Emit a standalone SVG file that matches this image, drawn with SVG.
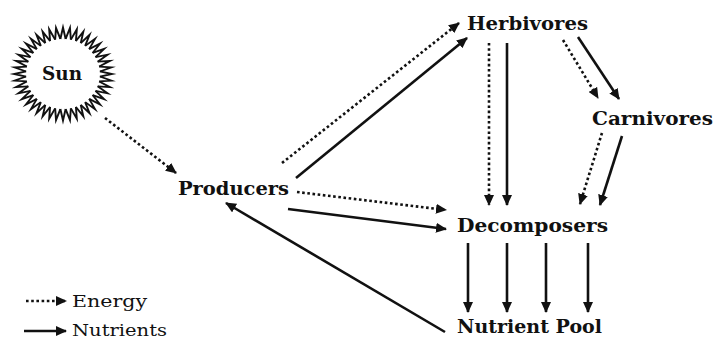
<svg xmlns="http://www.w3.org/2000/svg" width="713" height="340" viewBox="0 0 713 340">
<style>
.lbl{font-family:"DejaVu Serif","Liberation Serif",serif;font-weight:bold;font-size:18px;fill:#111}
.leg{font-family:"DejaVu Serif","Liberation Serif",serif;font-size:16px;fill:#111}
.sol{stroke:#111;stroke-width:2.6;fill:none;marker-end:url(#ah)}
.dot{stroke:#111;stroke-width:2.6;fill:none;stroke-dasharray:2.6 2.6;marker-end:url(#ah)}
.sp{fill:none;stroke:#111;stroke-width:1.9;stroke-linejoin:miter;stroke-miterlimit:20}
</style>
<defs>
<marker id="ah" markerUnits="userSpaceOnUse" markerWidth="12" markerHeight="10" refX="10" refY="5" orient="auto">
<path d="M0,0 L11,5 L0,10 Z" fill="#111"/>
</marker>
<polyline id="spike" class="sp" points="36.906,-2.640 49,0 36.906,2.640"/>
</defs>
<rect width="713" height="340" fill="#fff"/>
<g id="sun">
<g transform="translate(63,74) scale(1,0.95)">
<use href="#spike" transform="rotate(0)"/><use href="#spike" transform="rotate(8.1818)"/><use href="#spike" transform="rotate(16.3636)"/><use href="#spike" transform="rotate(24.5455)"/><use href="#spike" transform="rotate(32.7273)"/><use href="#spike" transform="rotate(40.9091)"/><use href="#spike" transform="rotate(49.0909)"/><use href="#spike" transform="rotate(57.2727)"/><use href="#spike" transform="rotate(65.4545)"/><use href="#spike" transform="rotate(73.6364)"/><use href="#spike" transform="rotate(81.8182)"/>
<use href="#spike" transform="rotate(90)"/><use href="#spike" transform="rotate(98.1818)"/><use href="#spike" transform="rotate(106.3636)"/><use href="#spike" transform="rotate(114.5455)"/><use href="#spike" transform="rotate(122.7273)"/><use href="#spike" transform="rotate(130.9091)"/><use href="#spike" transform="rotate(139.0909)"/><use href="#spike" transform="rotate(147.2727)"/><use href="#spike" transform="rotate(155.4545)"/><use href="#spike" transform="rotate(163.6364)"/><use href="#spike" transform="rotate(171.8182)"/>
<use href="#spike" transform="rotate(180)"/><use href="#spike" transform="rotate(188.1818)"/><use href="#spike" transform="rotate(196.3636)"/><use href="#spike" transform="rotate(204.5455)"/><use href="#spike" transform="rotate(212.7273)"/><use href="#spike" transform="rotate(220.9091)"/><use href="#spike" transform="rotate(229.0909)"/><use href="#spike" transform="rotate(237.2727)"/><use href="#spike" transform="rotate(245.4545)"/><use href="#spike" transform="rotate(253.6364)"/><use href="#spike" transform="rotate(261.8182)"/>
<use href="#spike" transform="rotate(270)"/><use href="#spike" transform="rotate(278.1818)"/><use href="#spike" transform="rotate(286.3636)"/><use href="#spike" transform="rotate(294.5455)"/><use href="#spike" transform="rotate(302.7273)"/><use href="#spike" transform="rotate(310.9091)"/><use href="#spike" transform="rotate(319.0909)"/><use href="#spike" transform="rotate(327.2727)"/><use href="#spike" transform="rotate(335.4545)"/><use href="#spike" transform="rotate(343.6364)"/><use href="#spike" transform="rotate(351.8182)"/>
</g>
<text class="lbl" x="62" y="80" text-anchor="middle" textLength="40" lengthAdjust="spacingAndGlyphs">Sun</text>
</g>
<g id="producers"><text class="lbl" x="178" y="195" textLength="111" lengthAdjust="spacingAndGlyphs">Producers</text></g>
<g id="herbivores"><text class="lbl" x="467" y="30" textLength="121" lengthAdjust="spacingAndGlyphs">Herbivores</text></g>
<g id="carnivores"><text class="lbl" x="592" y="125" textLength="121" lengthAdjust="spacingAndGlyphs">Carnivores</text></g>
<g id="decomposers"><text class="lbl" x="457" y="232" textLength="151" lengthAdjust="spacingAndGlyphs">Decomposers</text></g>
<g id="nutrientpool"><text class="lbl" x="457" y="333" textLength="145" lengthAdjust="spacingAndGlyphs">Nutrient Pool</text></g>
<g id="legend">
<line class="dot" x1="26" y1="301" x2="66" y2="301"/>
<line class="sol" x1="24" y1="331" x2="66" y2="331"/>
<text class="leg" x="72" y="307" textLength="75" lengthAdjust="spacingAndGlyphs">Energy</text>
<text class="leg" x="72" y="336" textLength="95" lengthAdjust="spacingAndGlyphs">Nutrients</text>
</g>
<g id="connectors">
<line class="dot" x1="105" y1="118" x2="176" y2="173"/>
<line class="dot" x1="282" y1="163" x2="459" y2="23"/>
<line class="sol" x1="296" y1="178" x2="467" y2="38"/>
<line class="dot" x1="489" y1="43" x2="489" y2="205"/>
<line class="sol" x1="507" y1="43" x2="507" y2="205"/>
<line class="dot" x1="563" y1="40" x2="598" y2="98"/>
<line class="sol" x1="578" y1="37" x2="619" y2="99"/>
<line class="dot" x1="602" y1="133" x2="580" y2="204"/>
<line class="sol" x1="622" y1="136" x2="600" y2="205"/>
<line class="dot" x1="297" y1="192" x2="446" y2="210"/>
<line class="sol" x1="288" y1="209" x2="446" y2="229"/>
<line class="sol" x1="445" y1="332" x2="226" y2="203"/>
<line class="sol" x1="468" y1="243" x2="468" y2="312"/>
<line class="sol" x1="507" y1="243" x2="507" y2="312"/>
<line class="sol" x1="546" y1="243" x2="546" y2="312"/>
<line class="sol" x1="588" y1="243" x2="588" y2="312"/>
</g>
</svg>
